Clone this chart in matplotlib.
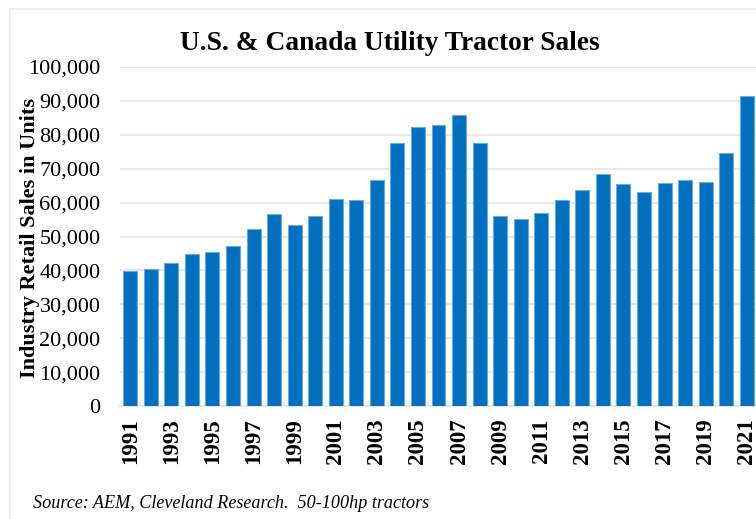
import matplotlib.pyplot as plt
from matplotlib.patches import Rectangle
from matplotlib.ticker import FuncFormatter

years = list(range(1991, 2022))
sales = [39700, 40500, 42300, 44900, 45500, 47100, 52300, 56700, 53300, 56100,
         61000, 60700, 66800, 77600, 82400, 82900, 85900, 77500, 56000, 55200,
         56900, 60900, 63600, 68300, 65500, 63100, 65800, 66800, 66100, 74600,
         91500]
tick_years = years[::2]

title = "U.S. & Canada Utility Tractor Sales"
ylabel = "Industry Retail Sales in Units"
source = "Source: AEM, Cleveland Research.  50-100hp tractors"

bar_color = "#0070C0"
edge_color = "#6FA8DC"
grid_color = "#E8E8E8"

plt.rcParams["font.family"] = ["Liberation Serif", "DejaVu Serif"]

fig = plt.figure(figsize=(7.56, 5.19), dpi=100)
fig.patches.append(Rectangle((10 / 756, -0.1), 1.2, 1 - 9 / 519 + 0.1,
                             transform=fig.transFigure, fill=False,
                             edgecolor="#EBEBEB", linewidth=1.2))

ax = fig.add_axes([120 / 756, 113 / 519, 637 / 756, 339 / 519])
x = list(range(len(years)))
ax.bar(x, sales, width=0.68, color=bar_color, edgecolor=edge_color,
       linewidth=0.8, zorder=3)

ax.set_xlim(-0.5, len(years) - 0.5)
ax.set_ylim(0, 100000)
ax.set_yticks(range(0, 100001, 10000))
ax.yaxis.set_major_formatter(FuncFormatter(lambda v, p: f"{int(v):,}"))
ax.set_xticks(x[::2])
ax.set_xticklabels([str(y) for y in tick_years], rotation=90,
                   fontweight="bold", fontsize=16.5)
ax.tick_params(axis="y", labelsize=16, length=0, pad=14)
ax.tick_params(axis="x", length=0, pad=9)

ax.grid(axis="y", color=grid_color, linewidth=1.5, zorder=0)
for s in ["top", "right", "left"]:
    ax.spines[s].set_visible(False)
ax.spines["bottom"].set_color(grid_color)
ax.spines["bottom"].set_linewidth(1.5)

fig.text(390 / 756, 1 - 44 / 519, title, ha="center", va="center",
         fontsize=19.7, fontweight="bold")
fig.text(30 / 756, 1 - 238 / 519, ylabel, ha="center", va="center",
         rotation=90, fontsize=16, fontweight="bold")
fig.text(33 / 756, 1 - 504 / 519, source, ha="left", va="center",
         fontsize=13.1, style="italic")

fig.savefig("out.png", dpi=100)
